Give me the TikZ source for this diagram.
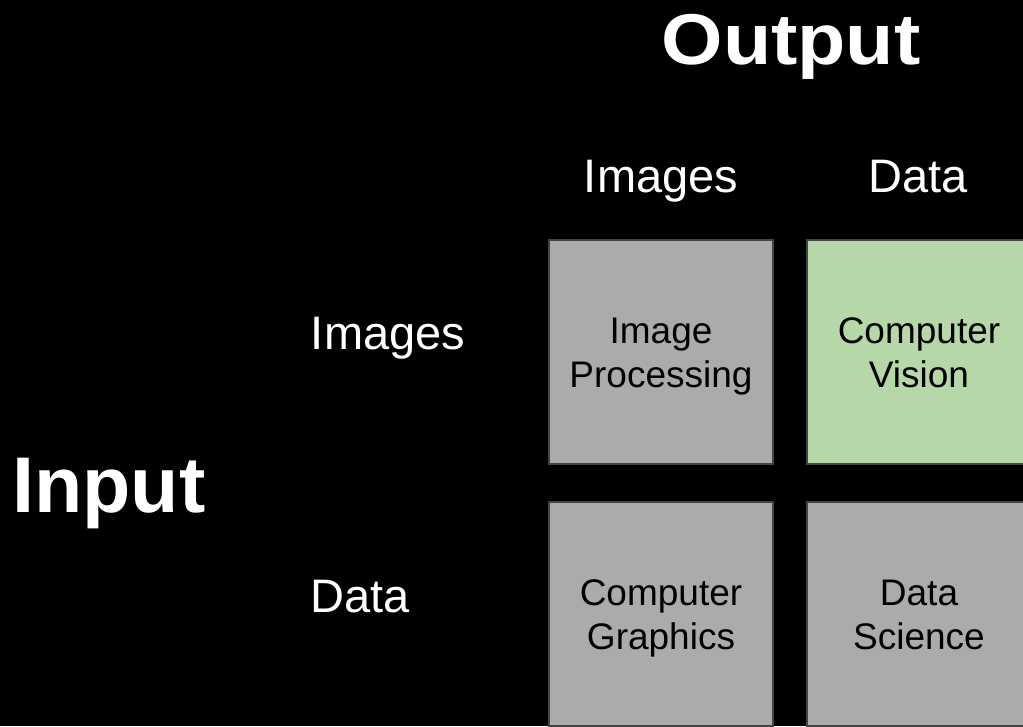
\documentclass[tikz,border=0pt]{standalone}
\usepackage{fontspec}
\setmainfont{Liberation Sans}
\definecolor{boxgray}{HTML}{ABABAB}
\definecolor{boxgreen}{HTML}{B6D7A8}
\definecolor{edgegray}{HTML}{444444}
\begin{document}
\begin{tikzpicture}[x=1pt,y=-1pt,
  cell/.style={draw=edgegray,line width=1.2pt,minimum width=224pt,minimum height=224pt,
    inner sep=0pt,align=center,text=black,text height=70pt,text depth=0pt,
    font=\fontsize{37}{44}\selectfont},
  gray cell/.style={cell,fill=boxgray},
  green cell/.style={cell,fill=boxgreen},
  axislabel/.style={text=white,inner sep=0pt,anchor=base,font=\fontsize{47}{54}\selectfont},
  title/.style={text=white,inner sep=0pt,anchor=base,font=\fontsize{79}{90}\selectfont\bfseries}]
\fill[black] (0,0) rectangle (1023,726);
\useasboundingbox (0,0) rectangle (1023,726);
\clip (0,0) rectangle (1023,726);
\node[gray cell]  (ip) at (661,352) {Image\\Processing};
\node[green cell] (cv) at (919,352) {Computer\\Vision};
\node[gray cell]  (cg) at (661,614) {Computer\\Graphics};
\node[gray cell]  (ds) at (919,614) {Data\\Science};
\node[title] (out) at (791,64) {\scalebox{1}[0.91]{Output}};
\node[title] (in) at (109,512) {Input};
\node[axislabel] (colimg) at (661,192) {Images};
\node[axislabel] (coldata) at (918,192) {Data};
\node[axislabel] (rowimg) at (388,349) {Images};
\node[axislabel] (rowdata) at (360,612) {Data};
\end{tikzpicture}
\end{document}
